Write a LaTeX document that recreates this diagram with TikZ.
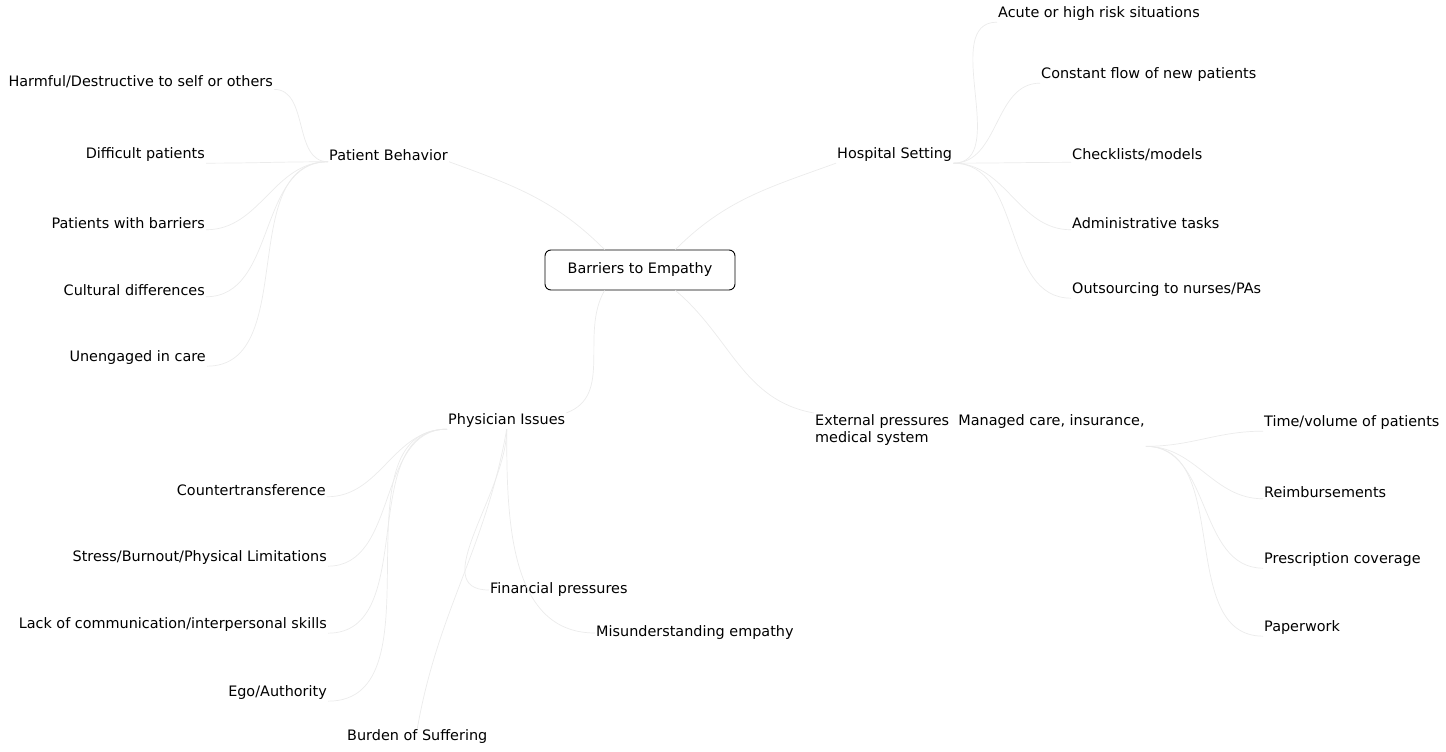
\documentclass[tikz,border=0pt]{standalone}
\usepackage{fontspec}
\setmainfont{DejaVu Sans}
\begin{document}
\begin{tikzpicture}[x=1pt,y=-1pt,
  every node/.style={inner sep=1pt,font=\fontsize{14.4}{17}\selectfont},
  topic/.style={},
  hub/.style={draw,line width=0.9pt,rounded corners=6pt,minimum width=190pt,minimum height=40pt},
  link/.style={draw=black!8,line width=0.7pt}]
\useasboundingbox (0,0) rectangle (1446,752);

% central topic
\node[hub] (c) at (640,270) {Barriers to Empathy};

% main branches
\node[topic,anchor=west] (pb) at (328,155) {Patient Behavior};
\node[topic,anchor=west] (hs) at (836,155) {Hospital Setting};
\node[topic,anchor=west] (pi) at (447,421) {Physician Issues};
\node[topic,anchor=north west,align=left] (ep) at (814,413)
  {External pressures\ \ Managed care, insurance,\\medical system};

% patient behavior
\node[topic,anchor=east] (harm) at (274,82) {Harmful/Destructive to self or others};
\node[topic,anchor=east] (diff) at (206,155) {Difficult patients};
\node[topic,anchor=east] (barr) at (206,223) {Patients with barriers};
\node[topic,anchor=east] (cult) at (206,290) {Cultural differences};
\node[topic,anchor=east] (uneng) at (207,358) {Unengaged in care};

% hospital setting
\node[topic,anchor=west] (acute) at (997,14) {Acute or high risk situations};
\node[topic,anchor=west] (flow) at (1040,75) {Constant flow of new patients};
\node[topic,anchor=west] (check) at (1071,155) {Checklists/models};
\node[topic,anchor=west] (admin) at (1071,223) {Administrative tasks};
\node[topic,anchor=west] (outs) at (1071,290) {Outsourcing to nurses/PAs};

% physician issues
\node[topic,anchor=east] (ct) at (327,490) {Countertransference};
\node[topic,anchor=east] (stress) at (328,558) {Stress/Burnout/Physical Limitations};
\node[topic,anchor=east] (comm) at (328,625) {Lack of communication/interpersonal skills};
\node[topic,anchor=east] (ego) at (328,693) {Ego/Authority};
\node[topic,anchor=west] (burden) at (346,737) {Burden of Suffering};
\node[topic,anchor=west] (fin) at (489,590) {Financial pressures};
\node[topic,anchor=west] (mis) at (595,633) {Misunderstanding empathy};

% external pressures
\node[topic,anchor=west] (time) at (1263,423) {Time/volume of patients};
\node[topic,anchor=west] (reimb) at (1263,492) {Reimbursements};
\node[topic,anchor=west] (presc) at (1263,560) {Prescription coverage};
\node[topic,anchor=west] (paper) at (1263,628) {Paperwork};

% faint branch lines
\draw[link] (c.150) to[out=135,in=-20] (pb.south east);
\draw[link] (c.30) to[out=45,in=-160] (hs.south west);
\draw[link] (c.-150) to[out=-120,in=20] (pi.north east);
\draw[link] (c.-30) to[out=-40,in=170] (ep.north west);

\foreach \n in {harm,diff,barr,cult,uneng}
  \draw[link] (pb.south west) to[out=180,in=0] (\n.south east);
\foreach \n in {acute,flow,check,admin,outs}
  \draw[link] (hs.south east) to[out=0,in=180] (\n.south west);
\foreach \n in {ct,stress,comm,ego}
  \draw[link] (pi.south west) to[out=180,in=0] (\n.south east);
\draw[link] (pi.south) to[out=-100,in=80] (burden.north);
\foreach \n in {fin,mis}
  \draw[link] (pi.south) to[out=-90,in=180] (\n.west);
\foreach \n in {time,reimb,presc,paper}
  \draw[link] (ep.south east) to[out=0,in=180] (\n.south west);
\end{tikzpicture}
\end{document}
